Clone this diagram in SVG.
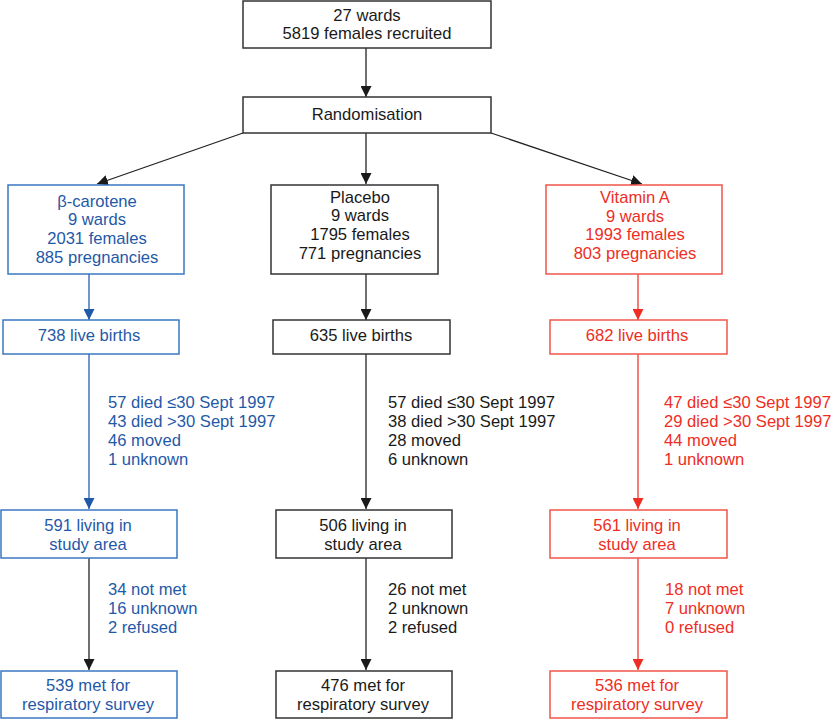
<svg xmlns="http://www.w3.org/2000/svg" width="832" height="719" viewBox="0 0 832 719">
<style>
text{font-family:"Liberation Sans",Arial,sans-serif;font-size:16.6px}
.c{text-anchor:middle}
.k{fill:#1a1a1a}
.b{fill:#1f59a8}
.r{fill:#ee2e24}
.bk{fill:#fff;stroke:#333;stroke-width:1.5}
.bb{fill:#fff;stroke:#3a78c2;stroke-width:1.5}
.br{fill:#fff;stroke:#f0554b;stroke-width:1.5}
.lk{stroke:#222;stroke-width:1.3;fill:none}
.lb{stroke:#2360ad;stroke-width:1.3;fill:none}
.lr{stroke:#ee3a30;stroke-width:1.3;fill:none}
</style>
<defs>
<marker id="ak" markerUnits="userSpaceOnUse" markerWidth="11" markerHeight="11" viewBox="0 0 10 10" refX="10" refY="5" orient="auto"><path d="M0,0 L10,5 L0,10 z" fill="#1a1a1a"/></marker>
<marker id="ab" markerUnits="userSpaceOnUse" markerWidth="11" markerHeight="11" viewBox="0 0 10 10" refX="10" refY="5" orient="auto"><path d="M0,0 L10,5 L0,10 z" fill="#1f59a8"/></marker>
<marker id="ar" markerUnits="userSpaceOnUse" markerWidth="11" markerHeight="11" viewBox="0 0 10 10" refX="10" refY="5" orient="auto"><path d="M0,0 L10,5 L0,10 z" fill="#ee2e24"/></marker>
</defs>
<g id="connectors">
<line class="lk" x1="366" y1="48" x2="366" y2="97" marker-end="url(#ak)"/>
<line class="lk" x1="243" y1="133" x2="97" y2="184" marker-end="url(#ak)"/>
<line class="lk" x1="366" y1="133" x2="366" y2="184" marker-end="url(#ak)"/>
<line class="lk" x1="491" y1="133" x2="642" y2="184" marker-end="url(#ak)"/>
<line class="lb" x1="89" y1="274" x2="89" y2="320" marker-end="url(#ab)"/>
<line class="lk" x1="366" y1="274" x2="366" y2="320" marker-end="url(#ak)"/>
<line class="lr" x1="638" y1="274" x2="638" y2="320" marker-end="url(#ar)"/>
<line class="lb" x1="89" y1="354" x2="89" y2="509" marker-end="url(#ab)"/>
<line class="lk" x1="366" y1="354" x2="366" y2="509" marker-end="url(#ak)"/>
<line class="lr" x1="638" y1="354" x2="638" y2="509" marker-end="url(#ar)"/>
<line class="lk" x1="89" y1="558" x2="89" y2="670" marker-end="url(#ak)"/>
<line class="lk" x1="366" y1="558" x2="366" y2="670" marker-end="url(#ak)"/>
<line class="lr" x1="638" y1="558" x2="638" y2="670" marker-end="url(#ar)"/>
</g>
<g id="top">
<rect class="bk" x="243" y="1" width="248" height="47"/>
<text class="c k" x="367" y="21">27 wards</text>
<text class="c k" x="367" y="39">5819 females recruited</text>
</g>
<g id="randomisation">
<rect class="bk" x="243" y="97" width="248" height="36"/>
<text class="c k" x="367" y="120">Randomisation</text>
</g>
<g id="beta">
<rect class="bb" x="8" y="185" width="176" height="89"/>
<text class="c b" x="97" y="207">β-carotene</text>
<text class="c b" x="97" y="225">9 wards</text>
<text class="c b" x="97" y="244">2031 females</text>
<text class="c b" x="97" y="263">885 pregnancies</text>
</g>
<g id="placebo">
<rect class="bk" x="271" y="185" width="167" height="89"/>
<text class="c k" x="360" y="203">Placebo</text>
<text class="c k" x="360" y="221">9 wards</text>
<text class="c k" x="360" y="240">1795 females</text>
<text class="c k" x="360" y="259">771 pregnancies</text>
</g>
<g id="vitA">
<rect class="br" x="546" y="185" width="176" height="89"/>
<text class="c r" x="635" y="203">Vitamin A</text>
<text class="c r" x="635" y="222">9 wards</text>
<text class="c r" x="635" y="240">1993 females</text>
<text class="c r" x="635" y="259">803 pregnancies</text>
</g>
<g id="beta-births">
<rect class="bb" x="3" y="320" width="176" height="34"/>
<text class="c b" x="89" y="341">738 live births</text>
</g>
<g id="placebo-births">
<rect class="bk" x="273" y="320" width="177" height="34"/>
<text class="c k" x="361" y="341">635 live births</text>
</g>
<g id="vitA-births">
<rect class="br" x="550" y="320" width="177" height="34"/>
<text class="c r" x="637" y="341">682 live births</text>
</g>
<g id="beta-loss1">
<text class="b" x="108" y="408">57 died ≤30 Sept 1997</text>
<text class="b" x="108" y="427">43 died &gt;30 Sept 1997</text>
<text class="b" x="108" y="446">46 moved</text>
<text class="b" x="108" y="465">1 unknown</text>
</g>
<g id="placebo-loss1">
<text class="k" x="388" y="408">57 died ≤30 Sept 1997</text>
<text class="k" x="388" y="427">38 died &gt;30 Sept 1997</text>
<text class="k" x="388" y="446">28 moved</text>
<text class="k" x="388" y="465">6 unknown</text>
</g>
<g id="vitA-loss1">
<text class="r" x="664" y="408">47 died ≤30 Sept 1997</text>
<text class="r" x="664" y="427">29 died &gt;30 Sept 1997</text>
<text class="r" x="664" y="446">44 moved</text>
<text class="r" x="664" y="465">1 unknown</text>
</g>
<g id="beta-living">
<rect class="bb" x="1" y="510" width="176" height="48"/>
<text class="c b" x="88" y="531">591 living in</text>
<text class="c b" x="88" y="550">study area</text>
</g>
<g id="placebo-living">
<rect class="bk" x="276" y="510" width="176" height="48"/>
<text class="c k" x="363" y="531">506 living in</text>
<text class="c k" x="363" y="550">study area</text>
</g>
<g id="vitA-living">
<rect class="br" x="550" y="510" width="177" height="48"/>
<text class="c r" x="637" y="531">561 living in</text>
<text class="c r" x="637" y="550">study area</text>
</g>
<g id="beta-loss2">
<text class="b" x="108" y="595">34 not met</text>
<text class="b" x="108" y="614">16 unknown</text>
<text class="b" x="108" y="633">2 refused</text>
</g>
<g id="placebo-loss2">
<text class="k" x="388" y="595">26 not met</text>
<text class="k" x="388" y="614">2 unknown</text>
<text class="k" x="388" y="633">2 refused</text>
</g>
<g id="vitA-loss2">
<text class="r" x="665" y="595">18 not met</text>
<text class="r" x="665" y="614">7 unknown</text>
<text class="r" x="665" y="633">0 refused</text>
</g>
<g id="beta-met">
<rect class="bb" x="1" y="671" width="176" height="47"/>
<text class="c b" x="88" y="691">539 met for</text>
<text class="c b" x="88" y="710">respiratory survey</text>
</g>
<g id="placebo-met">
<rect class="bk" x="276" y="671" width="176" height="47"/>
<text class="c k" x="363" y="691">476 met for</text>
<text class="c k" x="363" y="710">respiratory survey</text>
</g>
<g id="vitA-met">
<rect class="br" x="550" y="671" width="177" height="47"/>
<text class="c r" x="637" y="691">536 met for</text>
<text class="c r" x="637" y="710">respiratory survey</text>
</g>
</svg>
